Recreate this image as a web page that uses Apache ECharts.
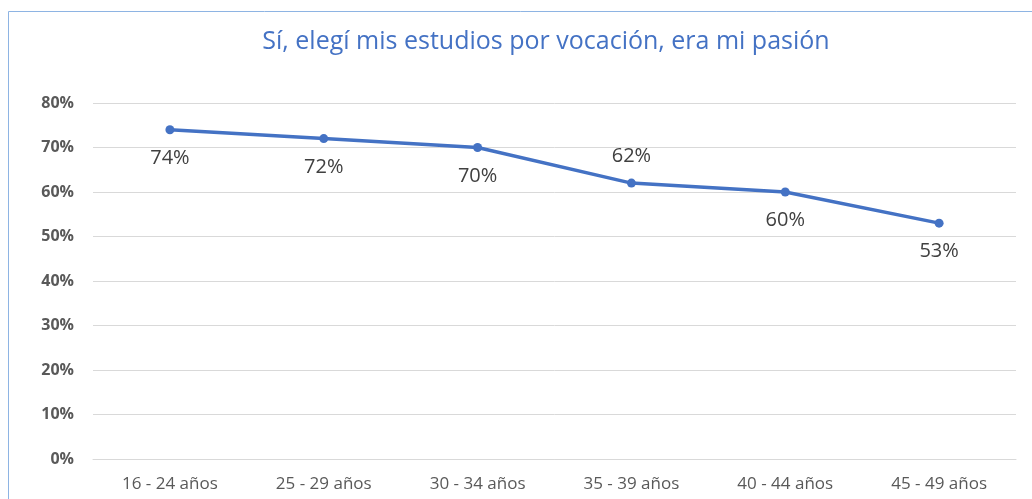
<!DOCTYPE html>
<html>
<head>
<meta charset="utf-8">
<script src="https://cdn.jsdelivr.net/npm/echarts@6/dist/echarts.min.js"></script>
<style>
html,body{margin:0;padding:0;background:#fff;}
#c{width:1032px;height:499px;}
</style>
</head>
<body>
<div id="c"></div>
<script>
const titleText = 'Sí, elegí mis estudios por vocación, era mi pasión';
const categories = ['16 - 24 años', '25 - 29 años', '30 - 34 años', '35 - 39 años', '40 - 44 años', '45 - 49 años'];
const values = [74, 72, 70, 62, 60, 53];
const labelPositions = ['bottom', 'bottom', 'bottom', 'top', 'bottom', 'bottom'];

const chart = echarts.init(document.getElementById('c'));
chart.setOption({
  backgroundColor: '#fff',
  animation: false,
  title: {
    text: titleText,
    left: 541, top: 24, textAlign: 'center',
    textStyle: {color: '#4472C4', fontSize: 25, fontWeight: 'normal', fontFamily: 'Open Sans'}
  },
  graphic: [
    {type: 'line', shape: {x1: 8.5, y1: 11.5, x2: 8.5, y2: 499}, style: {stroke: '#8EB4E3', lineWidth: 1}},
    {type: 'line', shape: {x1: 8.5, y1: 11.5, x2: 1032, y2: 11.5}, style: {stroke: '#8EB4E3', lineWidth: 1}}
  ],
  grid: {left: 93, right: 16, top: 103, bottom: 40},
  xAxis: {
    type: 'category', data: categories, boundaryGap: true,
    axisLine: {show: true, lineStyle: {color: '#d9d9d9'}},
    axisTick: {show: false},
    axisLabel: {color: '#595959', fontSize: 17, margin: 17, fontFamily: 'Open Sans'}
  },
  yAxis: {
    type: 'value', min: 0, max: 80, interval: 10,
    axisLine: {show: false}, axisTick: {show: false},
    splitLine: {lineStyle: {color: '#d9d9d9', width: 1}},
    axisLabel: {formatter: '{value}%', color: '#595959', fontSize: 16, fontWeight: 'bold', margin: 19, fontFamily: 'Open Sans'}
  },
  series: [{
    type: 'line',
    data: values.map((v, i) => ({value: v, label: {position: labelPositions[i], distance: labelPositions[i] === 'top' ? 12 : 14}})),
    lineStyle: {color: '#4472C4', width: 3.5},
    itemStyle: {color: '#4472C4'},
    symbol: 'circle', symbolSize: 9,
    label: {show: true, formatter: '{c}%', color: '#404040', fontSize: 20, fontFamily: 'Open Sans'}
  }]
});
</script>
</body>
</html>
